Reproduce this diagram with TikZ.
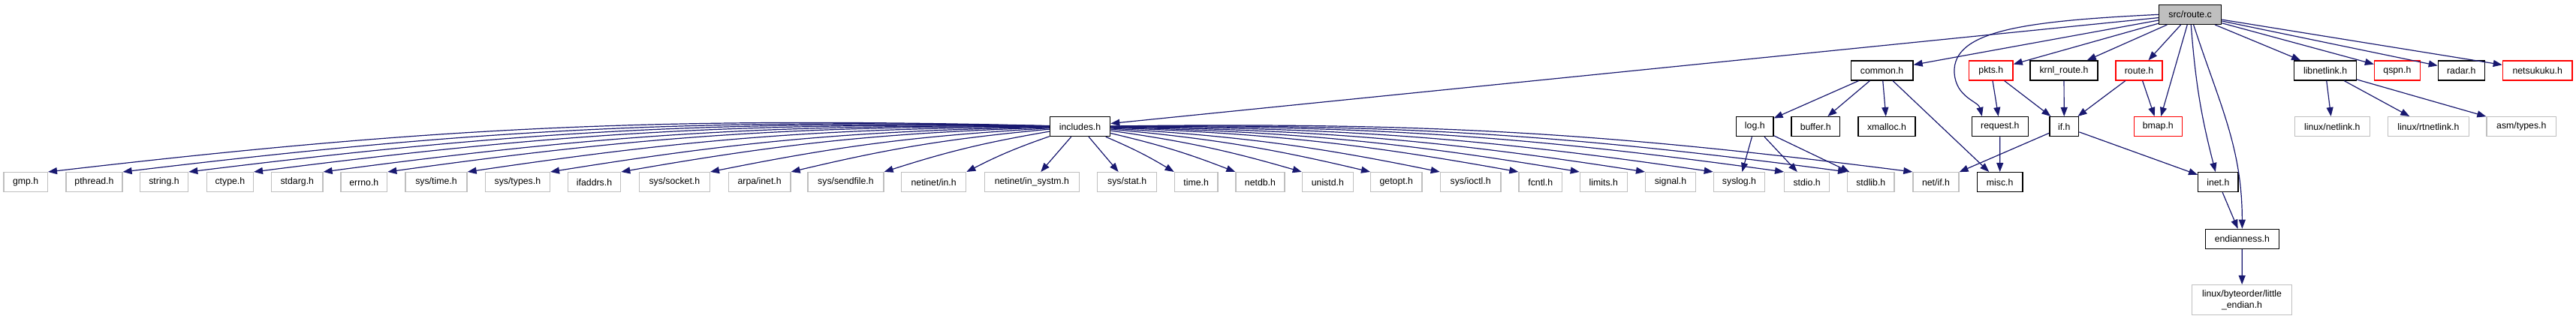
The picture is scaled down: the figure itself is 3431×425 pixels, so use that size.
\documentclass[tikz,border=0pt]{standalone}
\usepackage{fontspec}
\setmainfont{Liberation Sans}
\usetikzlibrary{arrows.meta}
\definecolor{edgecol}{HTML}{191970}
\definecolor{extgray}{HTML}{BFBFBF}
\definecolor{rootfill}{HTML}{BFBFBF}
\definecolor{warnred}{HTML}{FF0000}
\tikzset{
  hbox/.style={rectangle, inner sep=0pt, line width=0.33pt, fill=white,
    font=\fontsize{3.075}{3.75}\selectfont, minimum height=6.5pt, align=center},
  docbox/.style={draw=black},
  extbox/.style={draw=extgray},
  warnbox/.style={draw=warnred},
  rootbox/.style={draw=black, fill=rootfill},
  edge/.style={draw=edgecol, line width=0.3pt, -{Triangle[length=3pt,width=2.25pt]}}
}
\newcommand\mkbox[6]{\node[hbox,#1,minimum width={(#4-#3)*0.25},anchor=north west] (#2) at (#3,-#5) {#6};}
\begin{document}
\begin{tikzpicture}[x=0.25pt,y=0.25pt]
\useasboundingbox (0,0) rectangle (3431,-425);
\fill[white] (0,0) rectangle (3431,-425);
% root
\mkbox{rootbox}{root}{2875}{2958}{5.7}{src/route.c}
% row 1
\mkbox{docbox}{common}{2464.6}{2547.3}{80.3}{common.h}
\mkbox{warnbox}{pkts}{2621.9}{2680.4}{80.3}{pkts.h}
\mkbox{docbox}{krnl}{2703.4}{2793.3}{80.3}{krnl\_route.h}
\mkbox{warnbox}{routeh}{2817.4}{2879.3}{80.3}{route.h}
\mkbox{docbox}{libnl}{3055.1}{3137.7}{80.3}{libnetlink.h}
\mkbox{warnbox}{qspn}{3161.9}{3222.5}{80.3}{qspn.h}
\mkbox{docbox}{radar}{3246.7}{3308.5}{80.3}{radar.h}
\mkbox{warnbox}{netsuk}{3332.7}{3425.4}{80.3}{netsukuku.h}
% row 2
\mkbox{docbox}{inc}{1397.8}{1478}{155}{includes.h}
\mkbox{docbox}{log}{2311.9}{2361.3}{155}{log.h}
\mkbox{docbox}{buffer}{2385.4}{2449.7}{155}{buffer.h}
\mkbox{docbox}{xmalloc}{2474.4}{2550.2}{155}{xmalloc.h}
\mkbox{docbox}{request}{2625.8}{2700.6}{155}{request.h}
\mkbox{docbox}{ifh}{2729.2}{2768}{155}{if.h}
\mkbox{warnbox}{bmap}{2841.6}{2905.6}{155}{bmap.h}
\mkbox{extbox}{lnl}{3055.6}{3155.7}{155}{linux/netlink.h}
\mkbox{extbox}{lrtnl}{3179.8}{3287.7}{155}{linux/rtnetlink.h}
\mkbox{extbox}{asm}{3311.3}{3404}{155}{asm/types.h}
% row 3
\mkbox{extbox}{gmp}{4.3}{62.7}{229}{gmp.h}
\mkbox{extbox}{pthread}{87.3}{162.3}{229}{pthread.h}
\mkbox{extbox}{string}{185.7}{250}{229}{string.h}
\mkbox{extbox}{ctype}{274.7}{336.7}{229}{ctype.h}
\mkbox{extbox}{stdarg}{361}{429.3}{229}{stdarg.h}
\mkbox{extbox}{errno}{453.3}{515}{229}{errno.h}
\mkbox{extbox}{systime}{539.3}{621.3}{229}{sys/time.h}
\mkbox{extbox}{systypes}{645.7}{731.7}{229}{sys/types.h}
\mkbox{extbox}{ifaddrs}{755.7}{826}{229}{ifaddrs.h}
\mkbox{extbox}{syssocket}{850.7}{944.7}{229}{sys/socket.h}
\mkbox{extbox}{arpainet}{969.7}{1052.3}{229}{arpa/inet.h}
\mkbox{extbox}{sendfile}{1075.3}{1176.3}{229}{sys/sendfile.h}
\mkbox{extbox}{netin}{1200}{1286}{229}{netinet/in.h}
\mkbox{extbox}{insystm}{1310.7}{1436.7}{229}{netinet/in\_systm.h}
\mkbox{extbox}{sysstat}{1461}{1540}{229}{sys/stat.h}
\mkbox{extbox}{timeh}{1563.7}{1621.3}{229}{time.h}
\mkbox{extbox}{netdb}{1645.3}{1710.3}{229}{netdb.h}
\mkbox{extbox}{unistd}{1733.7}{1801.7}{229}{unistd.h}
\mkbox{extbox}{getopt}{1825}{1893.3}{229}{getopt.h}
\mkbox{extbox}{ioctl}{1917.7}{1998.3}{229}{sys/ioctl.h}
\mkbox{extbox}{fcntl}{2022.3}{2080}{229}{fcntl.h}
\mkbox{extbox}{limits}{2103.7}{2166.7}{229}{limits.h}
\mkbox{extbox}{signal}{2191}{2257.7}{229}{signal.h}
\mkbox{extbox}{syslog}{2281.7}{2350}{229}{syslog.h}
\mkbox{extbox}{stdio}{2376}{2436}{229}{stdio.h}
\mkbox{extbox}{stdlib}{2460}{2522.3}{229}{stdlib.h}
\mkbox{extbox}{netif}{2547.3}{2608.3}{229}{net/if.h}
\mkbox{docbox}{misc}{2632.7}{2693.3}{229}{misc.h}
\mkbox{docbox}{inet}{2927}{2980.4}{229}{inet.h}
% row 4, 5
\mkbox{docbox}{endian}{2936.5}{3034.9}{304.7}{endianness.h}
\node[hbox,extbox,minimum width=33.15pt,minimum height=10pt,anchor=north west] (little) at (2919.1,-379)
  {linux/byteorder/little\\\_endian.h};
% edges from root
\draw[edge] (root) -- (inc);
\draw[edge] (root) -- (common);
\draw[edge] (root.west) .. controls (2700,-28) and (2600,-40) .. (2603,-97)
  .. controls (2605,-130) and (2635,-135) .. ([xshift=3.5pt]request.north west);
\draw[edge] (root) -- (pkts);
\draw[edge] (root) -- (krnl);
\draw[edge] (root) -- (routeh);
\draw[edge] (root) -- (bmap);
\draw[edge] (root) to[bend right=5] (inet);
\draw[edge] (root) to[out=-72,in=90] (endian);
\draw[edge] (root) -- (libnl);
\draw[edge] (root) -- (qspn);
\draw[edge] (root) -- (radar);
\draw[edge] (root) -- (netsuk);
% includes.h
\foreach \t in {gmp,pthread,string,ctype,stdarg,errno,systime,systypes,ifaddrs,syssocket,arpainet,sendfile,netin}
  \draw[edge] (inc) to[bend right=4] (\t.north east);
\draw[edge] (inc) -- (insystm);
\draw[edge] (inc) -- (sysstat);
\foreach \t in {timeh,netdb,unistd,getopt,ioctl,fcntl,limits,signal,syslog,stdio,stdlib,netif}
  \draw[edge] (inc) to[bend left=4] (\t.north west);
% common.h
\draw[edge] (common) -- (log);
\draw[edge] (common) -- (buffer);
\draw[edge] (common) -- (xmalloc);
\draw[edge] (common) -- (misc);
% log.h
\draw[edge] (log) -- (syslog);
\draw[edge] (log) -- (stdio);
\draw[edge] (log) -- (stdlib);
% others
\draw[edge] (pkts) -- (request);
\draw[edge] (pkts) -- (ifh);
\draw[edge] (krnl) -- (ifh);
\draw[edge] (routeh) -- (ifh);
\draw[edge] (routeh) -- (bmap);
\draw[edge] (request) -- (misc);
\draw[edge] (ifh) -- (netif);
\draw[edge] (ifh) -- (inet);
\draw[edge] (inet) -- (endian);
\draw[edge] (endian) -- (little);
\draw[edge] (libnl) -- (lnl);
\draw[edge] (libnl) -- (lrtnl);
\draw[edge] (libnl) -- (asm);
\end{tikzpicture}
\end{document}
